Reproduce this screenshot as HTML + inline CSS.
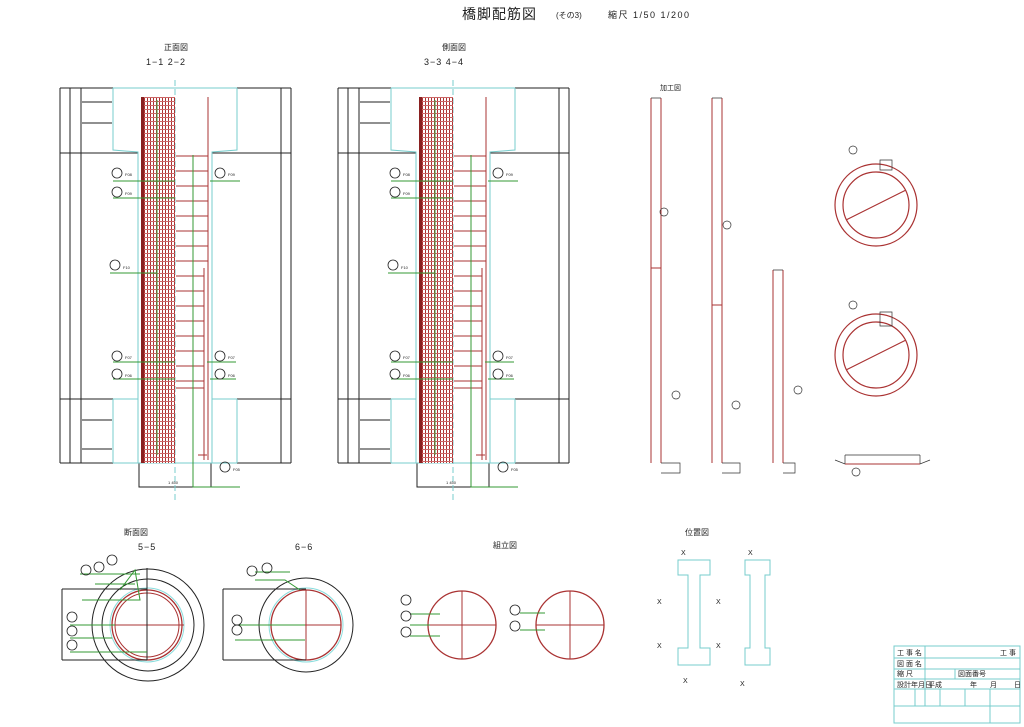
<!DOCTYPE html>
<html><head><meta charset="utf-8"><style>
body{margin:0;background:#fff}
svg{display:block}
text{font-family:"Liberation Sans","Noto Sans CJK JP",sans-serif;}
</style></head><body>
<svg width="1024" height="727" viewBox="0 0 1024 727" xmlns="http://www.w3.org/2000/svg">
<defs>
<pattern id="grid" x="141" y="97" width="3" height="4" patternUnits="userSpaceOnUse">
<rect width="3" height="4" fill="#fff"/><rect x="0" y="0" width="1" height="4" fill="#a33"/><rect x="0" y="0" width="3" height="1" fill="#c66"/>
</pattern>
<g id="pier">
<g stroke="#222" stroke-width="1" fill="none">
<path d="M60 88H291M60 463H291M60 88V463M291 88V463M70 88V463M81 88V463M281 88V463"/>
<path d="M60 153H138M212 153H291M60 399H138M212 399H291"/>
<path d="M82 102H112M82 123H112M82 420H112M82 449H112"/>
<path d="M139 463V487H211V463"/>
</g>
<g stroke="#7cc" stroke-width="1" fill="none">
<path d="M113 88H237M113 88V150L138 152V463M237 88V150L212 152V463M113 463H237M113 399V463M237 399V463M113 399H138M212 399H237"/>
</g>
<line x1="175" y1="80" x2="175" y2="500" stroke="#7cc" stroke-dasharray="6,3"/>
<rect x="141" y="97" width="34" height="366" fill="url(#grid)"/>
<rect x="141" y="97" width="3" height="366" fill="#8a2020"/>
<g stroke="#a33" fill="none">
<path d="M208 97V460M204 268V460"/>
<path d="M176 156H208M176 171H208M176 186H208M176 201H208M176 216H208M176 231H208M176 246H208M176 261H208M176 276H204M176 291H204M176 306H204M176 321H204M176 336H204M176 351H204M176 366H204M176 381H204M176 388H204"/>
<path d="M198 455H207"/>
</g>
<g stroke="#393" fill="none">
<path d="M157 100V455M193 155V487H240M113 181H175M113 198H175M110 273H157M113 362H175M113 379H175M210 181H240M210 379H236M207 362H236"/>
</g>
<g stroke="#222" fill="none" stroke-width="0.8">
<circle cx="117" cy="173" r="5"/><circle cx="117" cy="192" r="5"/><circle cx="115" cy="265" r="5"/><circle cx="117" cy="356" r="5"/><circle cx="117" cy="374" r="5"/><circle cx="220" cy="173" r="5"/><circle cx="220" cy="356" r="5"/><circle cx="220" cy="374" r="5"/><circle cx="225" cy="467" r="5"/>
</g>
<g font-size="4" fill="#222">
<text x="125" y="176">F08</text><text x="125" y="195">F09</text><text x="123" y="269">F10</text><text x="125" y="359">F07</text><text x="125" y="377">F06</text><text x="228" y="176">F09</text><text x="228" y="359">F07</text><text x="228" y="377">F06</text><text x="233" y="471">F05</text><text x="168" y="484">1 450</text>
</g>
</g>
</defs>

<text x="462" y="19" font-size="14" fill="#222" letter-spacing="1">橋脚配筋図</text>
<text x="556" y="18" font-size="8" fill="#222">(その3)</text>
<text x="608" y="18" font-size="9" fill="#222" letter-spacing="1.5">縮尺 1/50  1/200</text>
<text x="164" y="50" font-size="8" fill="#222">正面図</text>
<text x="146" y="65" font-size="9" fill="#222" letter-spacing="1">1−1  2−2</text>
<text x="442" y="50" font-size="8" fill="#222">側面図</text>
<text x="424" y="65" font-size="9" fill="#222" letter-spacing="1">3−3  4−4</text>

<use href="#pier"/>
<g transform="translate(278,0)"><use href="#pier"/></g>

<text x="660" y="90" font-size="7" fill="#222">加工図</text>
<g stroke="#a33" fill="none">
<path d="M651 98V463M661 98V463M651 268H661"/>
<path d="M712 98V463M722 98V463M712 305H722"/>
<path d="M773 270V463M783 270V463"/>
</g>
<g stroke="#333" fill="none" stroke-width="0.7">
<path d="M651 98H661M712 98H722M773 270H783"/>
<path d="M661 463H680V473H661M722 463H740V473H722M783 463H795V473H783"/>
<circle cx="676" cy="395" r="4"/><circle cx="736" cy="405" r="4"/><circle cx="798" cy="390" r="4"/><circle cx="664" cy="212" r="4"/><circle cx="727" cy="225" r="4"/>
</g>
<g stroke="#a33" fill="none" stroke-width="1.2">
<circle cx="876" cy="205" r="41"/><circle cx="876" cy="205" r="33"/>
<circle cx="876" cy="355" r="41"/><circle cx="876" cy="355" r="33"/>
<path d="M846 220L906 190M846 370L906 340"/>
</g>
<g stroke="#333" fill="none" stroke-width="0.7">
<circle cx="853" cy="150" r="4"/><circle cx="853" cy="305" r="4"/><circle cx="856" cy="472" r="4"/>
<path d="M880 160H892V170H880ZM880 312H892V326H880Z"/>
<path d="M845 455H920M835 460L845 464V455M920 455V464L930 460"/>
</g>
<path d="M845 464H920" stroke="#a33"/>

<text x="124" y="535" font-size="8" fill="#222">断面図</text>
<text x="138" y="550" font-size="9" fill="#222" letter-spacing="1">5−5</text>
<text x="295" y="550" font-size="9" fill="#222" letter-spacing="1">6−6</text>
<g fill="none">
<circle cx="148" cy="625" r="56" stroke="#222"/>
<circle cx="148" cy="625" r="46" stroke="#222"/>
<circle cx="147" cy="625" r="37" stroke="#8dd"/>
<circle cx="147" cy="625" r="35" stroke="#a33" stroke-width="1.3"/>
<circle cx="147" cy="625" r="32" stroke="#a33"/>
<path d="M112 625H184M147 590V660" stroke="#a33"/>
<path d="M147 568V660" stroke="#222"/>
<path d="M62 589V660M62 589H147M62 660H147" stroke="#222"/>
<path d="M80 574H140M95 584H135M82 600H140L135 570L120 590M70 625H115M70 638H112M70 652H147" stroke="#393"/>
<circle cx="306" cy="625" r="47" stroke="#222"/>
<circle cx="306" cy="625" r="37" stroke="#8dd"/>
<circle cx="306" cy="625" r="35" stroke="#a33" stroke-width="1.3"/>
<path d="M271 625H341M306 590V660" stroke="#a33"/>
<path d="M223 589V660M223 589H306M223 660H306" stroke="#222"/>
<path d="M255 572H290M255 580H285L300 590M235 625H305M235 640H305" stroke="#393"/>
<text x="493" y="548" font-size="8" fill="#222">組立図</text>
<circle cx="462" cy="625" r="34" stroke="#a33" stroke-width="1.3"/>
<path d="M428 625H496M462 591V659" stroke="#a33"/>
<circle cx="570" cy="625" r="34" stroke="#a33" stroke-width="1.3"/>
<path d="M536 625H604M570 591V659" stroke="#a33"/>
<path d="M410 614H440M410 625H430M410 636H440M520 613H545M520 630H545" stroke="#393"/>
</g>
<g stroke="#222" fill="none" stroke-width="0.8">
<circle cx="86" cy="570" r="5"/><circle cx="99" cy="567" r="5"/><circle cx="112" cy="560" r="5"/><circle cx="72" cy="617" r="5"/><circle cx="72" cy="631" r="5"/><circle cx="72" cy="645" r="5"/>
<circle cx="252" cy="571" r="5"/><circle cx="267" cy="568" r="5"/><circle cx="237" cy="620" r="5"/><circle cx="237" cy="630" r="5"/>
<circle cx="406" cy="600" r="5"/><circle cx="406" cy="616" r="5"/><circle cx="406" cy="632" r="5"/><circle cx="515" cy="610" r="5"/><circle cx="515" cy="626" r="5"/>
</g>

<text x="685" y="535" font-size="8" fill="#222">位置図</text>
<g stroke="#7cc" fill="none">
<path d="M678 560H710V575H700V648H710V665H678V648H688V575H678Z"/>
<path d="M745 560H770V575H765V648H770V665H745V648H750V575H745Z"/>
</g>
<g font-size="7" fill="#222"><text x="657" y="604">X</text><text x="716" y="604">X</text><text x="657" y="648">X</text><text x="716" y="648">X</text><text x="683" y="683">X</text><text x="740" y="686">X</text><text x="748" y="555">X</text><text x="681" y="555">X</text></g>

<g stroke="#7cc" fill="none">
<rect x="894" y="646" width="126" height="77"/>
<path d="M894 658H1020M894 669H1020M894 679H1020M894 689H1020M894 706H1020M925 646V706M894 689V723M915 689V706M940 689V706M965 689V706M990 689V723M955 669V679"/>
</g>
<g font-size="7" fill="#222">
<text x="897" y="655">工 事 名</text><text x="1000" y="655">工 事</text>
<text x="897" y="666">図 面 名</text><text x="897" y="676">縮   尺</text><text x="958" y="676">図面番号</text>
<text x="897" y="687">設計年月日</text><text x="928" y="687">平成</text><text x="970" y="687">年</text><text x="990" y="687">月</text><text x="1014" y="687">日</text>
</g>
</svg>
</body></html>
